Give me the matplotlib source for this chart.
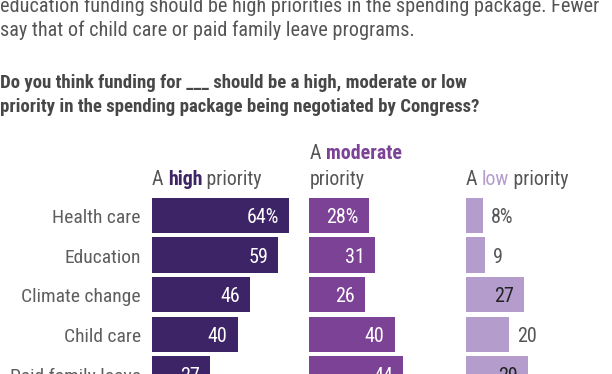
import matplotlib
matplotlib.use('Agg')
import matplotlib.pyplot as plt

plt.rcParams['font.family'] = ['Roboto Condensed', 'Liberation Sans', 'DejaVu Sans']

# data
categories = ['Health care', 'Education', 'Climate change', 'Child care', 'Paid family leave']
high = [64, 59, 46, 40, 27]
moderate = [28, 31, 26, 40, 44]
low = [8, 9, 27, 20, 29]

intro_lines = ['education funding should be high priorities in the spending package. Fewer',
               'say that of child care or paid family leave programs.']
question_lines = ['Do you think funding for ___ should be a high, moderate or low',
                  'priority in the spending package being negotiated by Congress?']

c_high = '#3d2466'
c_mod = '#7b4296'
c_low = '#b49dcc'
c_text = '#555555'

W, H = 612, 374
fig = plt.figure(figsize=(W / 100, H / 100), dpi=100)

def fx(x):
    return x / W

def fy(y):
    return 1 - y / H

# intro + question text
fig.text(fx(0), fy(12), intro_lines[0], fontsize=14.6, color=c_text, va='baseline')
fig.text(fx(0), fy(35.5), intro_lines[1], fontsize=14.6, color=c_text, va='baseline')
fig.text(fx(0), fy(88), question_lines[0], fontsize=13.5, color='#474747', weight='bold', va='baseline')
fig.text(fx(0), fy(112), question_lines[1], fontsize=13.5, color='#474747', weight='bold', va='baseline')

# axes geometry in pixels
px_per_unit = 2.14
pitch = 39.67
top = 215.4 - pitch / 2
ax_h = pitch * 5
panels = [(152, high, c_high), (309, moderate, c_mod), (466, low, c_low)]
xmax = 70

axes = []
for left, vals, col in panels:
    ax = fig.add_axes([fx(left), fy(top + ax_h), xmax * px_per_unit / W, ax_h / H])
    ax.barh(range(len(categories)), vals, height=0.895, color=col)
    ax.set_xlim(0, xmax)
    ax.set_ylim(len(categories) - 0.5, -0.5)
    ax.axis('off')
    axes.append(ax)

# value labels
for k, (ax, (left, vals, col)) in enumerate(zip(axes, panels)):
    for i, v in enumerate(vals):
        s = f'{v}%' if i == 0 else str(v)
        if k < 2:
            ax.annotate(s, (v, i), xytext=(-10, -7.5), textcoords='offset pixels',
                        ha='right', va='baseline', color='white', fontsize=14.5)
        elif v >= 25:
            ax.annotate(s, (v, i), xytext=(-10, -7.5), textcoords='offset pixels',
                        ha='right', va='baseline', color='#222222', fontsize=14.5)
        else:
            ax.annotate(s, (v, i), xytext=(8, -7.5), textcoords='offset pixels',
                        ha='left', va='baseline', color=c_text, fontsize=14.5)

# category labels
for i, cat in enumerate(categories):
    axes[0].annotate(cat, (0, i), xytext=(-11, -7.5), textcoords='offset pixels',
                     ha='right', va='baseline', color='#5e5e5e', fontsize=14)

# column headers with mixed styles
renderer = fig.canvas.get_renderer()

def rich(x, y, parts):
    for s, col, wt in parts:
        t = fig.text(fx(x), fy(y), s, fontsize=14.3, color=col, weight=wt, va='baseline')
        bb = t.get_window_extent(renderer)
        x += bb.width

rich(152, 185, [('A ', c_text, 'normal'), ('high', c_high, 'bold'), (' priority', c_text, 'normal')])
rich(310, 159, [('A ', c_text, 'normal'), ('moderate', c_mod, 'bold')])
rich(310, 185, [('priority', c_text, 'normal')])
rich(466, 185, [('A ', c_text, 'normal'), ('low', c_low, 'normal'), (' priority', c_text, 'normal')])

fig.savefig('out.png', dpi=100)
